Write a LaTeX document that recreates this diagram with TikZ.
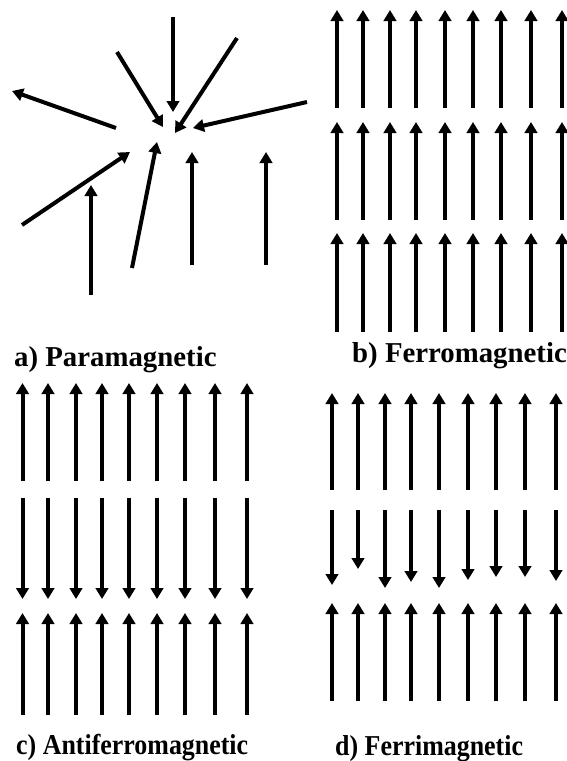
\documentclass[tikz,border=0pt]{standalone}
\usepackage{fontspec}
\setmainfont{Liberation Serif}
\usetikzlibrary{arrows.meta}
\tikzset{
  spin/.style={line width=4pt,-{Triangle[width=12.5pt,length=11pt]}},
  lbl/.style={anchor=base west,inner sep=0pt,font=\bfseries\fontsize{28.8}{30}\selectfont},
}
\begin{document}
\begin{tikzpicture}[x=1pt,y=-1pt]
\useasboundingbox (0,0) rectangle (567,761);
% a) paramagnetic
\foreach \ax/\ay/\bx/\by [count=\i] in {173/17/173/112, 117/52/163/127, 237/38/175/133, 307/102/193/128, 116/128/12/91, 22/225/130/152, 91/295/91/185, 132/268/157/142, 192/265/192/152, 266/265/266/152}{
  \coordinate (pa\i) at (\ax,\ay);
  \coordinate (pb\i) at (\bx,\by);
  \draw[spin] (pa\i) -- (pb\i);
}
% b) ferromagnetic
\foreach \x [count=\i] in {337,363,390,416,445,473,501,531,562}{
  \draw[spin] (\x,108) -- (\x,10);
  \draw[spin] (\x,220) -- (\x,122);
  \draw[spin] (\x,332) -- (\x,233);
}
% c) antiferromagnetic
\foreach \x in {22.5,48,76,102,129,157,185,215,247}{
  \draw[spin] (\x,481) -- (\x,383);
  \draw[spin] (\x,498) -- (\x,599);
  \draw[spin] (\x,715) -- (\x,613);
}
% d) ferrimagnetic
\foreach \x/\t in {332/585,358/569,385/588,411/582,439/588,468/580,496/577,525/577,556/581}{
  \draw[spin] (\x,490) -- (\x,393);
  \draw[spin] (\x,510) -- (\x,\t);
  \draw[spin] (\x,701) -- (\x,603);
}
\node[lbl] (la) at (14,366) {a) Paramagnetic};
\node[lbl] (lb) at (352,362) {b) Ferromagnetic};
\node[lbl] (lc) at (16,754) {\scalebox{0.9}[1]{c) Antiferromagnetic}};
\node[lbl] (ld) at (335,755) {\scalebox{0.9}[1]{d) Ferrimagnetic}};
\end{tikzpicture}
\end{document}
